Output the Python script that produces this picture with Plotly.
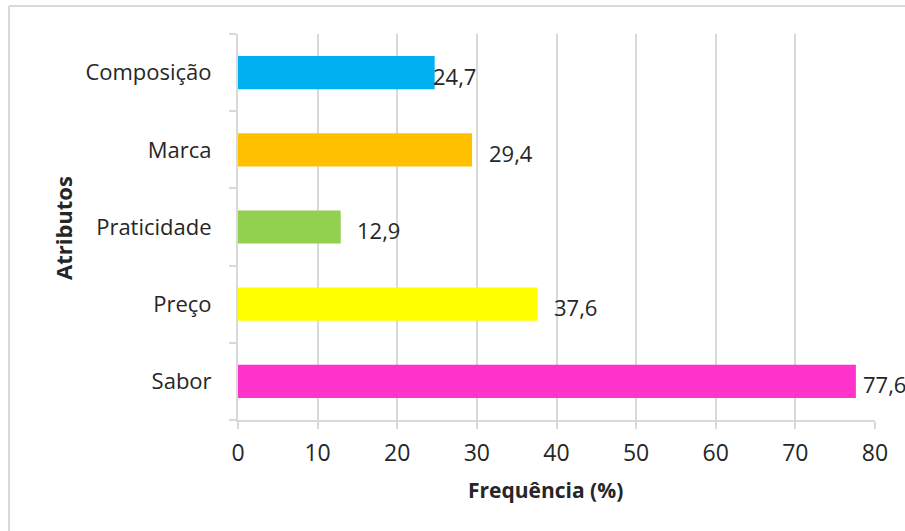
import plotly.graph_objects as go

# Atributos avaliados e frequência de citação (%)
atributos = ["Sabor", "Preço", "Praticidade", "Marca", "Composição"]
frequencia = [77.6, 37.6, 12.9, 29.4, 24.7]
cores = ["#FF33CC", "#FFFF00", "#92D050", "#FFC000", "#00B0F0"]
rotulos = ["77,6", "37,6", "12,9", "29,4", "24,7"]
# deslocamento horizontal (px) de cada rótulo de dados
desloc_rotulo = [5, 15, 14, 15, -4]

x_ticks = [0, 10, 20, 30, 40, 50, 60, 70, 80]

FONTE = "Open Sans, Noto Sans, DejaVu Sans, sans-serif"
TEXTO = "#262626"
GRADE = "#D9D9D9"

fig = go.Figure()
fig.add_trace(go.Bar(
    x=frequencia,
    y=atributos,
    orientation="h",
    marker=dict(color=cores, line=dict(width=0)),
    width=0.43,
    hoverinfo="x+y",
))

for v, cat, txt, dx in zip(frequencia, atributos, rotulos, desloc_rotulo):
    fig.add_annotation(
        x=v, y=cat, text=txt, showarrow=False,
        xanchor="left", yanchor="middle", xshift=dx, yshift=-3,
        font=dict(family=FONTE, size=22, color=TEXTO),
    )

# geometria da área de plotagem (px)
L, R, T, B = 238, 875, 34, 420
W, H = 905, 531
px = lambda p: (p - L) / (R - L)
py = lambda p: (B - p) / (B - T)

# títulos dos eixos
fig.add_annotation(
    xref="paper", yref="paper", x=px(545), y=py(490),
    text="<b>Frequência (%)</b>", showarrow=False,
    xanchor="center", yanchor="middle",
    font=dict(family=FONTE, size=21, color=TEXTO),
)
fig.add_annotation(
    xref="paper", yref="paper", x=px(63), y=py(228),
    text="<b>Atributos</b>", showarrow=False, textangle=-90,
    xanchor="center", yanchor="middle",
    font=dict(family=FONTE, size=22, color=TEXTO),
)

# moldura externa do gráfico
fig.add_shape(type="line", xref="paper", yref="paper",
              x0=px(9), x1=px(9), y0=py(6), y1=py(H + 10),
              line=dict(color=GRADE, width=2))
fig.add_shape(type="line", xref="paper", yref="paper",
              x0=px(9), x1=px(W + 10), y0=py(6), y1=py(6),
              line=dict(color=GRADE, width=2))

fig.update_layout(
    width=W, height=H,
    margin=dict(l=L, r=W - R, t=T, b=H - B),
    paper_bgcolor="white",
    plot_bgcolor="white",
    showlegend=False,
    font=dict(family=FONTE, size=22, color=TEXTO),
    bargap=0.57,
)

fig.update_xaxes(
    range=[0, 80],
    tickvals=x_ticks,
    ticktext=[str(t) for t in x_ticks],
    showgrid=True, gridcolor=GRADE, gridwidth=2,
    showline=True, linecolor=GRADE, linewidth=2,
    ticks="outside", ticklen=7, tickcolor=GRADE, tickwidth=2,
    ticklabelstandoff=4,
    zeroline=False,
    tickfont=dict(family=FONTE, size=23, color=TEXTO),
)

fig.update_yaxes(
    type="category",
    categoryorder="array", categoryarray=atributos,
    tickson="boundaries",
    showgrid=False,
    showline=True, linecolor=GRADE, linewidth=2,
    ticks="outside", ticklen=7, tickcolor=GRADE, tickwidth=2,
    ticklabelstandoff=20,
    tickfont=dict(family=FONTE, size=22, color=TEXTO),
)

fig.write_html("out.html")
